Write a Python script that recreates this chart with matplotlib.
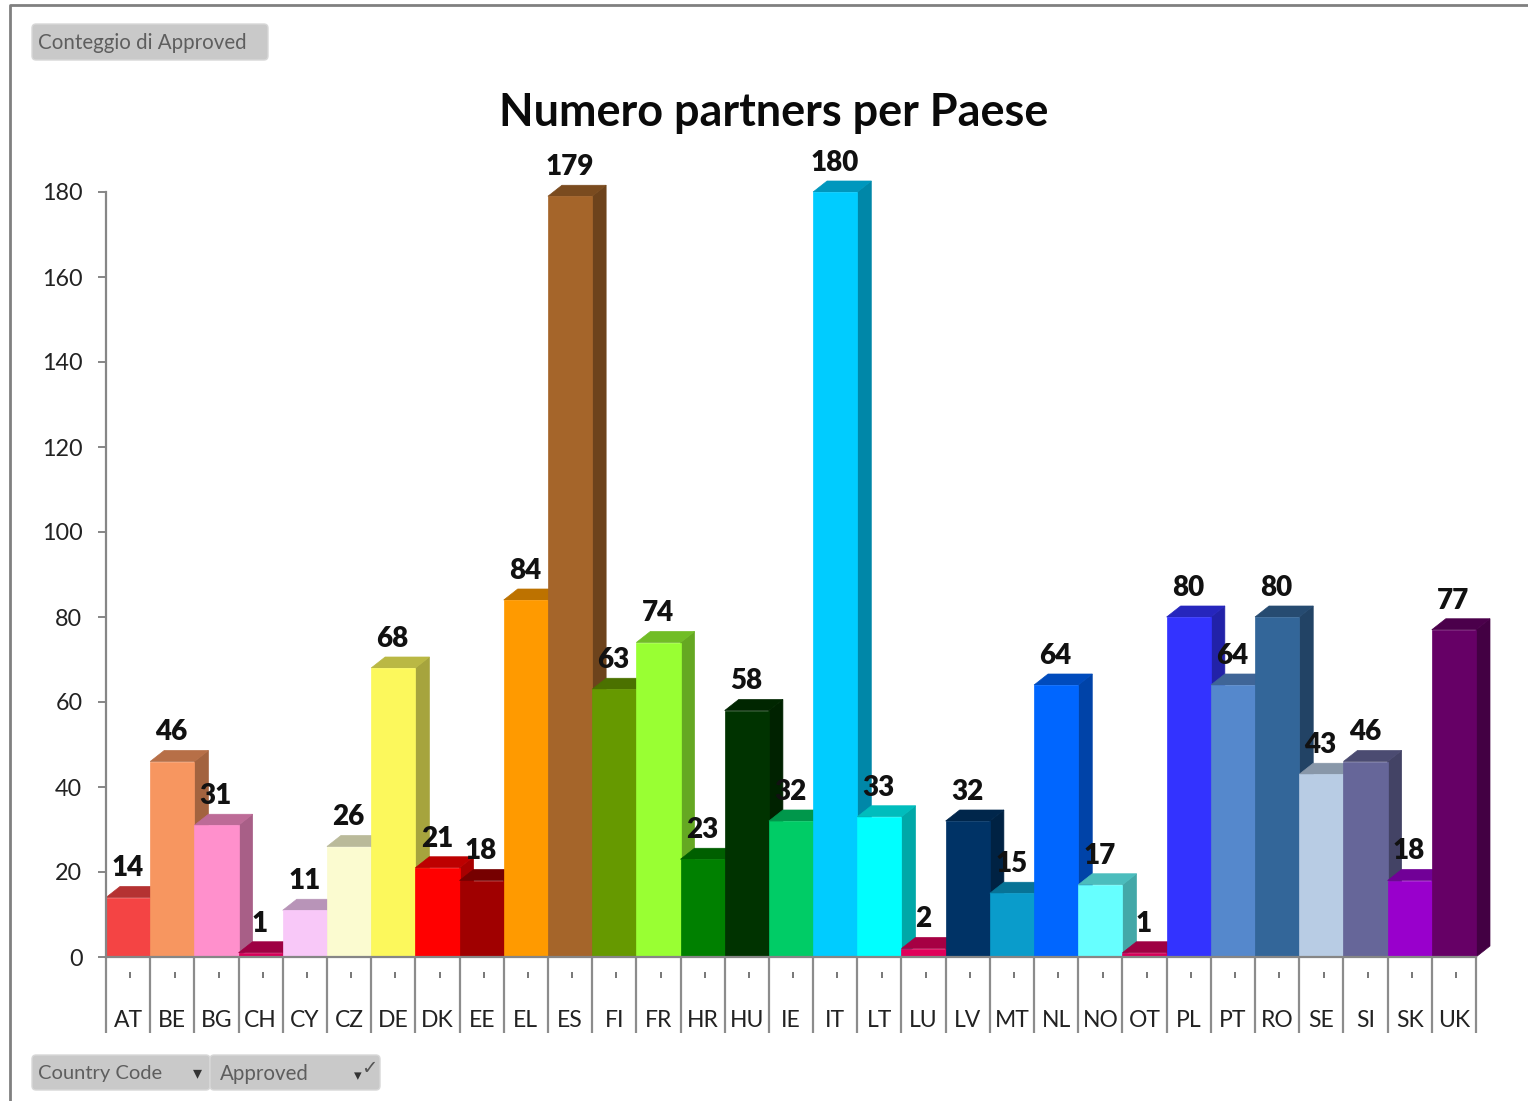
import matplotlib
matplotlib.use("Agg")
import matplotlib.pyplot as plt
from matplotlib.patches import FancyBboxPatch
from matplotlib.lines import Line2D
import matplotlib.colors as mc

countries = ["AT","BE","BG","CH","CY","CZ","DE","DK","EE","EL","ES","FI","FR","HR","HU","IE",
             "IT","LT","LU","LV","MT","NL","NO","OT","PL","PT","RO","SE","SI","SK","UK"]
values = [14,46,31,1,11,26,68,21,18,84,179,63,74,23,58,32,180,33,2,32,15,64,17,1,80,64,80,43,46,18,77]
colors = ["#F44444","#F79660","#FF90CC","#D6005A","#F8C8F8","#FBFBD0","#FCF85C","#FF0000","#A00000",
          "#FF9A00","#A5652A","#669900","#99FF33","#008000","#003300","#00CC66","#00CCFF","#00FFFF",
          "#E0005A","#003366","#0A9CCB","#0066FF","#66FFFF","#D6005A","#3333FF","#5588CC","#336699",
          "#B8CCE4","#666699","#9900CC","#660066"]
y_ticks = [0,20,40,60,80,100,120,140,160,180]
title = "Numero partners per Paese"

W, H = 1528, 1101
FONT = ["Lato", "DejaVu Sans"]
plt.rcParams["font.family"] = FONT
fig = plt.figure(figsize=(W/100, H/100), dpi=100, facecolor="white")

def fx(p): return p / W
def fy(p): return 1 - p / H

ax = fig.add_axes([fx(106), fy(957), fx(1476) - fx(106), fy(192) - fy(957)])
ax.set_xlim(0, len(countries))
ax.set_ylim(0, 180)
ax.patch.set_alpha(0)

DX, DY = 14 / (1370 / 31), 11 / (765 / 180)

def shade(c, f):
    r, g, b = mc.to_rgb(c)
    return (r * f, g * f, b * f)

for i, (v, c) in enumerate(zip(values, colors)):
    z = 3 + i
    ax.bar(i + 0.5, v, width=1.0, color=c, edgecolor=c, linewidth=0.5, zorder=z + 0.2, clip_on=False)
    side = shade(c, 0.66)
    top = shade(c, 0.74)
    ax.fill([i + 1, i + 1 + DX, i + 1 + DX, i + 1], [0, DY, v + DY, v],
            facecolor=side, edgecolor=side, linewidth=0.5, zorder=z, clip_on=False)
    ax.fill([i, i + DX, i + 1 + DX, i + 1], [v, v + DY, v + DY, v],
            facecolor=top, edgecolor=top, linewidth=0.5, zorder=z + 0.1, clip_on=False)

for i, v in enumerate(values):
    ax.annotate(str(v), (i + 0.5, v), xytext=(-0.5, 21), textcoords="offset points",
                ha="center", va="center", fontsize=20, fontweight="heavy",
                color="#111111", zorder=100, annotation_clip=False)

for s in ("top", "right"):
    ax.spines[s].set_visible(False)
for s in ("left", "bottom"):
    ax.spines[s].set_color("#868686")
    ax.spines[s].set_linewidth(1.6)
    ax.spines[s].set_zorder(60)

ax.set_yticks(y_ticks)
ax.tick_params(axis="y", length=6, width=1.4, color="#868686", labelsize=16.8,
               labelcolor="#222222", pad=11)
ax.set_xticks([i + 0.5 for i in range(len(countries))])
ax.set_xticklabels(countries)
ax.tick_params(axis="x", which="major", length=0, labelsize=16.5, labelcolor="#222222", pad=38)
ax.set_xticks(range(len(countries) + 1), minor=True)
ax.tick_params(axis="x", which="minor", length=55, width=1.6, color="#8C8C8C")
ax.vlines([i + 0.55 for i in range(len(countries))], -5.0, -3.6, color="#777777",
          linewidth=1.4, clip_on=False)

fig.text(fx(774), fy(113), title, ha="center", va="center", fontsize=32.4,
         fontweight="bold", color="#0A0A0A")

# Outer frame
fig.add_artist(Line2D([fx(10), fx(10), fx(1528)], [fy(1101), fy(5), fy(5)],
                      color="#808080", linewidth=2))

def button(x0, y0, x1, y1):
    fig.add_artist(FancyBboxPatch((x0, H - y1), x1 - x0, y1 - y0,
                                  boxstyle="round,pad=0,rounding_size=4",
                                  transform=None, facecolor="#C9C9C9",
                                  edgecolor="#D8D8D8", linewidth=1))

# transform=None means pixel coordinates of the figure canvas
button(32, 24, 268, 60)
button(32, 1055, 210, 1090)
button(210, 1055, 380, 1090)
btn = dict(va="center", ha="left", color="#5E5E5E")
fig.text(fx(38), fy(43), "Conteggio di Approved", fontsize=14.8, **btn)
fig.text(fx(38), fy(1074), "Country Code", fontsize=14.5, **btn)
fig.text(fx(220), fy(1074), "Approved", fontsize=14.8, **btn)
fig.text(fx(197), fy(1073), "▾", ha="center", va="center", fontsize=13, color="#333333")
fig.text(fx(358), fy(1076), "▾", ha="center", va="center", fontsize=11, color="#333333")
fig.text(fx(369), fy(1068), "✓", ha="center", va="center", fontsize=14, color="#555555")

fig.savefig("out.png", dpi=100, facecolor="white")
